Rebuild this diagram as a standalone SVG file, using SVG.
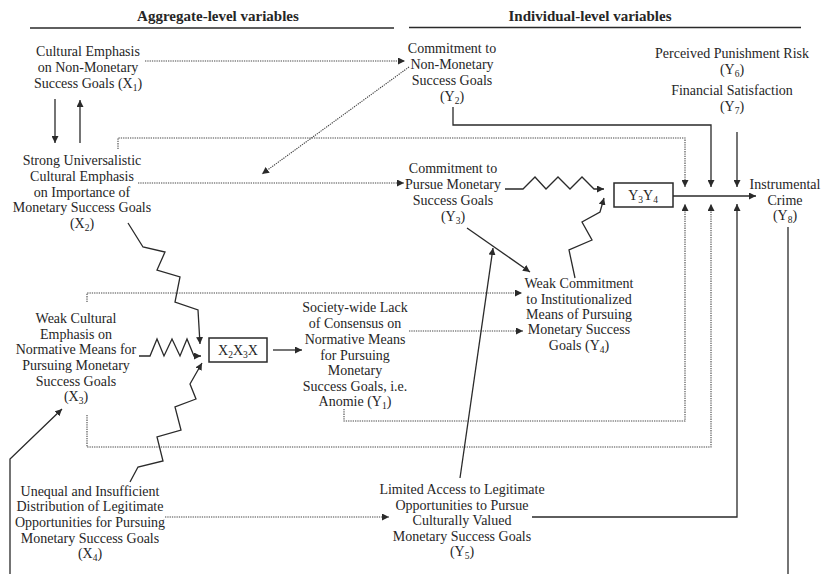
<svg xmlns="http://www.w3.org/2000/svg" width="824" height="574" viewBox="0 0 824 574">
<style>
text{font-family:"Liberation Serif","Times New Roman",serif;font-size:14px;fill:#262626;text-anchor:middle}
.hd{font-weight:bold;font-size:15px}
.sub{font-size:9.5px}
.s{fill:none;stroke:#2a2a2a;stroke-width:1.3}
.d{fill:none;stroke:#444;stroke-width:1.1;stroke-dasharray:1.3 1}
.box{fill:#fff;stroke:#2a2a2a;stroke-width:1.5}
.rule{stroke:#2a2a2a;stroke-width:1.5}
</style>
<defs>
<marker id="ah" viewBox="0 0 10 10" refX="10" refY="5" markerWidth="7" markerHeight="7" markerUnits="userSpaceOnUse" orient="auto">
<path d="M0,0 L10,5 L0,10 z" fill="#2a2a2a"/>
</marker>
</defs>
<rect width="824" height="574" fill="#fff"/>

<g id="headers">
<text class="hd" x="218" y="21">Aggregate-level variables</text>
<line class="rule" x1="30" y1="28" x2="394" y2="28"/>
<text class="hd" x="590" y="21">Individual-level variables</text>
<line class="rule" x1="409" y1="27.5" x2="801" y2="27.5"/>
</g>

<g id="connectors">
<line class="s" x1="55" y1="99" x2="55" y2="143" marker-end="url(#ah)"/>
<line class="s" x1="80" y1="143" x2="80" y2="100" marker-end="url(#ah)"/>
<line class="d" x1="145" y1="61" x2="405" y2="61" marker-end="url(#ah)"/>
<line class="d" x1="409" y1="67" x2="262" y2="174" marker-end="url(#ah)"/>
<line class="d" x1="138" y1="183" x2="404" y2="183" marker-end="url(#ah)"/>
<path class="d" d="M118,149 V138 H685 V187" marker-end="url(#ah)"/>
<path class="s" d="M453,107 V125 H711 V187" marker-end="url(#ah)"/>
<line class="s" x1="737" y1="132" x2="737" y2="187" marker-end="url(#ah)"/>
<line class="s" x1="673" y1="196" x2="756" y2="196" marker-end="url(#ah)"/>
<path class="d" d="M344,409 V421 H685 V204" marker-end="url(#ah)"/>
<path class="d" d="M87,415 V447 H711 V204" marker-end="url(#ah)"/>
<path class="s" d="M532,517 H737 V204" marker-end="url(#ah)"/>
<line class="s" x1="788" y1="227" x2="788" y2="574"/>
<path class="s" d="M10,574 V459 L62,409" marker-end="url(#ah)"/>
<polyline class="s" points="128,223 143,247 165,252 157,270 180,277 175,302 198,310 200,344" marker-end="url(#ah)"/>
<polyline class="s" points="139,356 150,356 157,339 164,356 172,339 180,356 187,339 194,356 201,356" marker-end="url(#ah)"/>
<polyline class="s" points="130,482 138,467 163,461 157,437 181,430 175,407 196,399 190,384 202,363" marker-end="url(#ah)"/>
<line class="s" x1="273" y1="350" x2="302" y2="350" marker-end="url(#ah)"/>
<path class="d" d="M87,302 V293 H522" marker-end="url(#ah)"/>
<line class="d" x1="409" y1="331" x2="523" y2="331" marker-end="url(#ah)"/>
<line class="s" x1="467" y1="228" x2="530" y2="272" marker-end="url(#ah)"/>
<line class="s" x1="460" y1="478" x2="493" y2="248" marker-end="url(#ah)"/>
<polyline class="s" points="505,189 523,189 535,177 546,189 558,177 570,189 582,177 594,189 604,189" marker-end="url(#ah)"/>
<polyline class="s" points="575,278 569,250 592,240 582,222 600,212 604,198" marker-end="url(#ah)"/>
<line class="d" x1="165" y1="517" x2="389" y2="517" marker-end="url(#ah)"/>
</g>

<g id="X1">
<text x="88" y="56">Cultural Emphasis</text>
<text x="88" y="72">on Non-Monetary</text>
<text x="88" y="88">Success Goals (X<tspan class="sub" dy="3">1</tspan><tspan dy="-3">)</tspan></text>
</g>

<g id="X2">
<text x="82" y="165">Strong Universalistic</text>
<text x="82" y="181">Cultural Emphasis</text>
<text x="82" y="197">on Importance of</text>
<text x="82" y="212">Monetary Success Goals</text>
<text x="82" y="228">(X<tspan class="sub" dy="3">2</tspan><tspan dy="-3">)</tspan></text>
</g>

<g id="X3">
<text x="76" y="323">Weak Cultural</text>
<text x="76" y="339">Emphasis on</text>
<text x="76" y="354">Normative Means for</text>
<text x="76" y="370">Pursuing Monetary</text>
<text x="76" y="386">Success Goals</text>
<text x="76" y="401">(X<tspan class="sub" dy="3">3</tspan><tspan dy="-3">)</tspan></text>
</g>

<g id="X4">
<text x="90" y="496">Unequal and Insufficient</text>
<text x="90" y="511">Distribution of Legitimate</text>
<text x="90" y="527">Opportunities for Pursuing</text>
<text x="90" y="543">Monetary Success Goals</text>
<text x="90" y="558">(X<tspan class="sub" dy="3">4</tspan><tspan dy="-3">)</tspan></text>
</g>

<g id="X2X3X">
<rect class="box" x="209" y="338" width="58" height="24"/>
<text x="238" y="355">X<tspan class="sub" dy="3">2</tspan><tspan dy="-3">X</tspan><tspan class="sub" dy="3">3</tspan><tspan dy="-3">X</tspan></text>
</g>

<g id="Y1">
<text x="355" y="312">Society-wide Lack</text>
<text x="355" y="328">of Consensus on</text>
<text x="355" y="344">Normative Means</text>
<text x="355" y="360">for Pursuing</text>
<text x="355" y="375">Monetary</text>
<text x="355" y="391">Success Goals, i.e.</text>
<text x="355" y="406">Anomie (Y<tspan class="sub" dy="3">1</tspan><tspan dy="-3">)</tspan></text>
</g>

<g id="Y2">
<text x="452" y="53">Commitment to</text>
<text x="452" y="69">Non-Monetary</text>
<text x="452" y="85">Success Goals</text>
<text x="452" y="101">(Y<tspan class="sub" dy="3">2</tspan><tspan dy="-3">)</tspan></text>
</g>

<g id="Y3">
<text x="453" y="173">Commitment to</text>
<text x="453" y="189">Pursue Monetary</text>
<text x="453" y="205">Success Goals</text>
<text x="453" y="221">(Y<tspan class="sub" dy="3">3</tspan><tspan dy="-3">)</tspan></text>
</g>

<g id="Y4">
<text x="579" y="288">Weak Commitment</text>
<text x="579" y="304">to Institutionalized</text>
<text x="579" y="319">Means of Pursuing</text>
<text x="579" y="334">Monetary Success</text>
<text x="579" y="350">Goals (Y<tspan class="sub" dy="3">4</tspan><tspan dy="-3">)</tspan></text>
</g>

<g id="Y3Y4">
<rect class="box" x="614" y="183" width="59" height="24"/>
<text x="643" y="200">Y<tspan class="sub" dy="3">3</tspan><tspan dy="-3">Y</tspan><tspan class="sub" dy="3">4</tspan></text>
</g>

<g id="Y5">
<text x="462" y="494">Limited Access to Legitimate</text>
<text x="462" y="510">Opportunities to Pursue</text>
<text x="462" y="525">Culturally Valued</text>
<text x="462" y="541">Monetary Success Goals</text>
<text x="462" y="556">(Y<tspan class="sub" dy="3">5</tspan><tspan dy="-3">)</tspan></text>
</g>

<g id="Y6">
<text x="732" y="58">Perceived Punishment Risk</text>
<text x="732" y="74">(Y<tspan class="sub" dy="3">6</tspan><tspan dy="-3">)</tspan></text>
</g>

<g id="Y7">
<text x="732" y="95">Financial Satisfaction</text>
<text x="732" y="111">(Y<tspan class="sub" dy="3">7</tspan><tspan dy="-3">)</tspan></text>
</g>

<g id="Y8">
<text x="785" y="189">Instrumental</text>
<text x="785" y="205">Crime</text>
<text x="785" y="220">(Y<tspan class="sub" dy="3">8</tspan><tspan dy="-3">)</tspan></text>
</g>
</svg>
